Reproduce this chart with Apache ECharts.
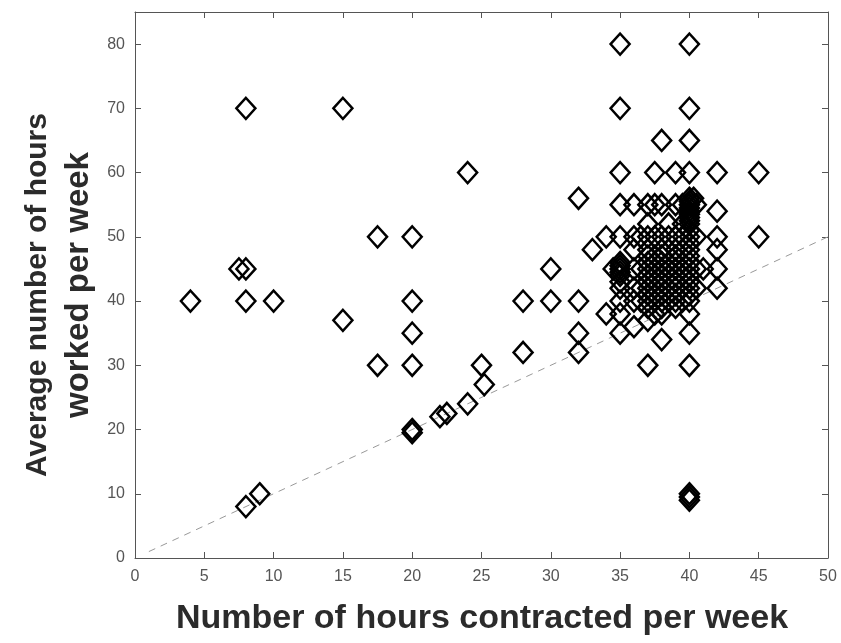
<!DOCTYPE html>
<html>
<head>
<meta charset="utf-8">
<script src="https://cdn.jsdelivr.net/npm/echarts@6/dist/echarts.min.js"></script>
<style>html,body{margin:0;padding:0;background:#fff}#c{width:841px;height:643px}</style>
</head>
<body>
<div id="c"></div>
<script>
var contracted = [
  4, 7.5, 8, 8, 8, 10, 15, 15, 17.5, 17.5, 20, 20, 20, 20, 20, 20, 8, 9, 22, 22.5, 24, 24, 25, 25.2,
  28, 28, 30, 30, 32, 32, 32, 32, 33, 34, 34, 34.5,
  35, 35, 35, 35, 35, 35, 35, 35, 35, 35, 35, 35, 35, 35, 35,
  36, 36, 36, 36, 36, 36, 36, 36.5, 36.5, 36.5, 36.5,
  37, 37, 37, 37, 37, 37, 37, 37, 37, 37, 37, 37, 37, 37, 37,
  37.5, 37.5, 37.5, 37.5, 37.5, 37.5, 37.5, 37.5, 37.5, 37.5, 37.5, 37.5,
  38, 38, 38, 38, 38, 38, 38, 38, 38, 38, 38, 38, 38, 38, 38,
  38.5, 38.5, 38.5, 38.5, 38.5, 38.5, 38.5, 38.5,
  39, 39, 39, 39, 39, 39, 39, 39, 39, 39, 39, 39, 39,
  39.5, 39.5, 39.5, 39.5, 39.5, 39.5, 39.5, 39.5, 39.5,
  40, 40, 40, 40, 40, 40, 40, 40, 40, 40, 40, 40, 40, 40, 40, 40, 40, 40, 40, 40, 40, 40, 40, 40, 40, 40, 40,
  40, 40, 40, 40,
  40.5, 40.5, 40.5, 40.5, 40.3,
  41,
  42, 42, 42, 42, 42, 42,
  45, 45
];
var worked = [
  40, 45, 45, 70, 40, 40, 70, 37, 50, 30, 50, 40, 35, 30, 20, 19.5, 8, 10, 22, 22.5, 24, 60, 30, 27,
  40, 32, 40, 45, 40, 35, 32, 56, 48, 50, 38, 45,
  80, 70, 60, 55, 50, 46, 45.5, 45, 44.5, 44, 43, 42, 40, 38, 35,
  55, 50, 48, 45, 42, 40, 36, 50, 45, 42, 40,
  55, 52, 50, 48, 47, 46, 45, 44, 43, 42, 41, 40, 39, 37, 30,
  60, 55, 50, 47, 46, 45, 44, 43, 42, 41, 40, 38,
  65, 55, 50, 48, 47, 46, 45, 44, 43, 42, 41, 40, 39, 38, 34,
  52, 50, 48, 46, 45, 44, 42, 40,
  60, 55, 50, 48, 47, 46, 45, 44, 43, 42, 41, 40, 39,
  55, 52, 50, 48, 46, 45, 44, 42, 40,
  80, 70, 65, 60, 56, 55, 54, 53, 52, 51, 50, 49, 48, 47, 46, 45, 44, 43, 42, 41, 40, 38, 35, 30, 10, 9.5, 9,
  55.5, 54.5, 53.5, 52.5,
  55, 50, 45, 42, 56,
  45,
  60, 54, 50, 48, 45, 42,
  60, 50
];
var refLineX = [1, 50];
var refLineY = [1, 50];
var xTicks = [0, 50, 5];
var yTicks = [0, 85, 10];

var pts = contracted.map(function (x, i) { return [x, worked[i]]; });
var ref = refLineX.map(function (x, i) { return [x, refLineY[i]]; });

var axisColor = '#555';
var labelStyle = { color: '#555', fontSize: 16, fontFamily: 'Liberation Sans, Arial, sans-serif' };

function mkAxis(pos, isX, showLabel) {
  var t = isX ? xTicks : yTicks;
  return {
    type: 'value', min: t[0], max: t[1], interval: t[2], position: pos,
    axisLine: { show: true, onZero: false, lineStyle: { color: axisColor, width: 1 } },
    axisTick: { show: true, inside: true, length: 6, lineStyle: { color: axisColor } },
    axisLabel: showLabel ? Object.assign({ margin: isX ? 11 : 10, showMaxLabel: isX }, labelStyle) : { show: false },
    splitLine: { show: false }
  };
}

var chart = echarts.init(document.getElementById('c'), null, { renderer: 'canvas' });
chart.setOption({
  animation: false,
  backgroundColor: '#fff',
  grid: { left: 135, right: 13, top: 12, bottom: 85 },
  xAxis: [ mkAxis('bottom', true, true), mkAxis('top', true, false) ],
  yAxis: [ mkAxis('left', false, true), mkAxis('right', false, false) ],
  series: [
    { type: 'line', data: ref, symbol: 'none', silent: true,
      lineStyle: { color: '#999', width: 1, type: [7, 6] }, z: 1 },
    { type: 'scatter', data: pts, symbol: 'diamond', symbolSize: [19, 21],
      itemStyle: { color: 'rgba(0,0,0,0)', borderColor: '#000', borderWidth: 2.5, opacity: 1 }, z: 2 }
  ],
  graphic: [
    { type: 'text', x: 482, y: 619, style: { text: 'Number of hours contracted per week',
      font: 'bold 34px "Liberation Sans", Arial, sans-serif', fill: '#2b2b2b', align: 'center', verticalAlign: 'middle' } },
    { type: 'text', x: 38, y: 295, rotation: Math.PI / 2, style: { text: 'Average number of hours',
      font: 'bold 30px "Liberation Sans", Arial, sans-serif', fill: '#2b2b2b', align: 'center', verticalAlign: 'middle' } },
    { type: 'text', x: 79, y: 285, rotation: Math.PI / 2, style: { text: 'worked per week',
      font: 'bold 33px "Liberation Sans", Arial, sans-serif', fill: '#2b2b2b', align: 'center', verticalAlign: 'middle' } }
  ]
});
</script>
</body>
</html>
